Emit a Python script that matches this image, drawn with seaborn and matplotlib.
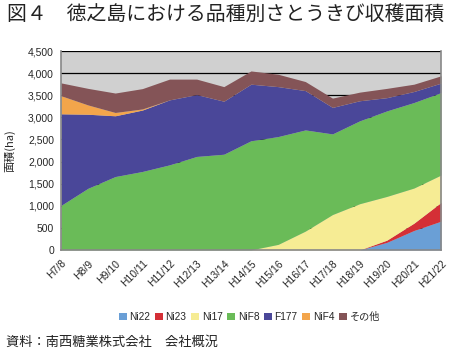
import numpy as np
import matplotlib
matplotlib.use('Agg')
import matplotlib.pyplot as plt
import seaborn as sns
from matplotlib.patches import Patch
from matplotlib.ticker import FuncFormatter, MultipleLocator

# ***************************************************
# data (ha)

years = ['H7/8', 'H8/9', 'H9/10', 'H10/11', 'H11/12', 'H12/13', 'H13/14', 'H14/15',
         'H15/16', 'H16/17', 'H17/18', 'H18/19', 'H19/20', 'H20/21', 'H21/22']

ni22 = [0, 0, 0, 0, 0, 0, 0, 0, 0, 0, 0, 0, 170, 440, 650]
ni23 = [0, 0, 0, 0, 0, 0, 0, 0, 0, 0, 0, 0, 50, 165, 425]
ni17 = [0, 0, 0, 0, 0, 0, 0, 0, 125, 425, 800, 1045, 990, 795, 620]
nif8 = [1005, 1395, 1660, 1775, 1925, 2115, 2165, 2470, 2440, 2290, 1825, 1875, 1935, 1935, 1865]
f177 = [2075, 1675, 1375, 1390, 1470, 1400, 1200, 1280, 1130, 890, 600, 455, 300, 250, 215]
nif4 = [410, 210, 75, 25, 0, 0, 0, 0, 0, 0, 0, 0, 0, 0, 0]
other = [290, 375, 440, 460, 470, 350, 330, 300, 280, 205, 210, 195, 210, 165, 165]

series_names = ['Ni22', 'Ni23', 'Ni17', 'NiF8', 'F177', 'NiF4', 'その他']

# ***************************************************

sns.set_style('white')
plt.rcParams['font.family'] = ['Liberation Sans', 'Noto Sans CJK JP', 'DejaVu Sans']
cjk = ['Noto Sans CJK JP', 'DejaVu Sans']

palette = ['#6a9fd6', '#d42f36', '#f6ec94', '#6abb58', '#4a4799', '#f3a54b', '#845457']

fig = plt.figure(figsize=(4.51, 3.57), dpi=100)
ax = fig.add_axes([0.135, 0.3, 0.843, 0.557])

x = np.arange(len(years))
ax.set_facecolor('#d0d0d0')
ax.stackplot(x, ni22, ni23, ni17, nif8, f177, nif4, other,
             colors=palette, linewidth=0, zorder=2)

ax.set_xlim(0, len(years) - 1)
ax.set_ylim(0, 4500)
ax.yaxis.set_major_locator(MultipleLocator(500))
ax.yaxis.set_major_formatter(FuncFormatter(lambda v, p: f'{int(v):,}'))
ax.grid(axis='y', color='black', linewidth=0.9, zorder=1)
ax.set_axisbelow(True)

ax.set_xticks(x)
ax.set_xticklabels(years, rotation=45, ha='right', rotation_mode='anchor', fontsize=7.5)
ax.tick_params(axis='y', labelsize=7.5, pad=5)
ax.tick_params(direction='in', length=3, width=0.8, color='#333333')
ax.tick_params(axis='x', pad=6)

# no gridline on the top edge
fig.canvas.draw()
ax.yaxis.get_gridlines()[-1].set_visible(False)

for side in ['left', 'bottom', 'right']:
    ax.spines[side].set_color('#888888')
    ax.spines[side].set_linewidth(1.2)
ax.spines['top'].set_visible(False)

ax.set_ylabel('面積(ha)', fontsize=8, labelpad=9, family=cjk)

handles = [Patch(facecolor=c, edgecolor='none') for c in palette]
fig.legend(handles, series_names, loc='center', bbox_to_anchor=(0.553, 0.112), ncol=7,
           frameon=False, fontsize=7.3, handlelength=0.8, handleheight=0.8,
           handletextpad=0.25, columnspacing=0.45)

fig.text(0.015, 0.958, '図４　徳之島における品種別さとうきび収穫面積', fontsize=14.3,
         va='center', ha='left', color='#222222', family=cjk)
fig.text(0.013, 0.042, '資料：南西糖業株式会社　会社概況', fontsize=9.5,
         va='center', ha='left', color='#222222', family=cjk)

plt.savefig('out.png', dpi=100)
